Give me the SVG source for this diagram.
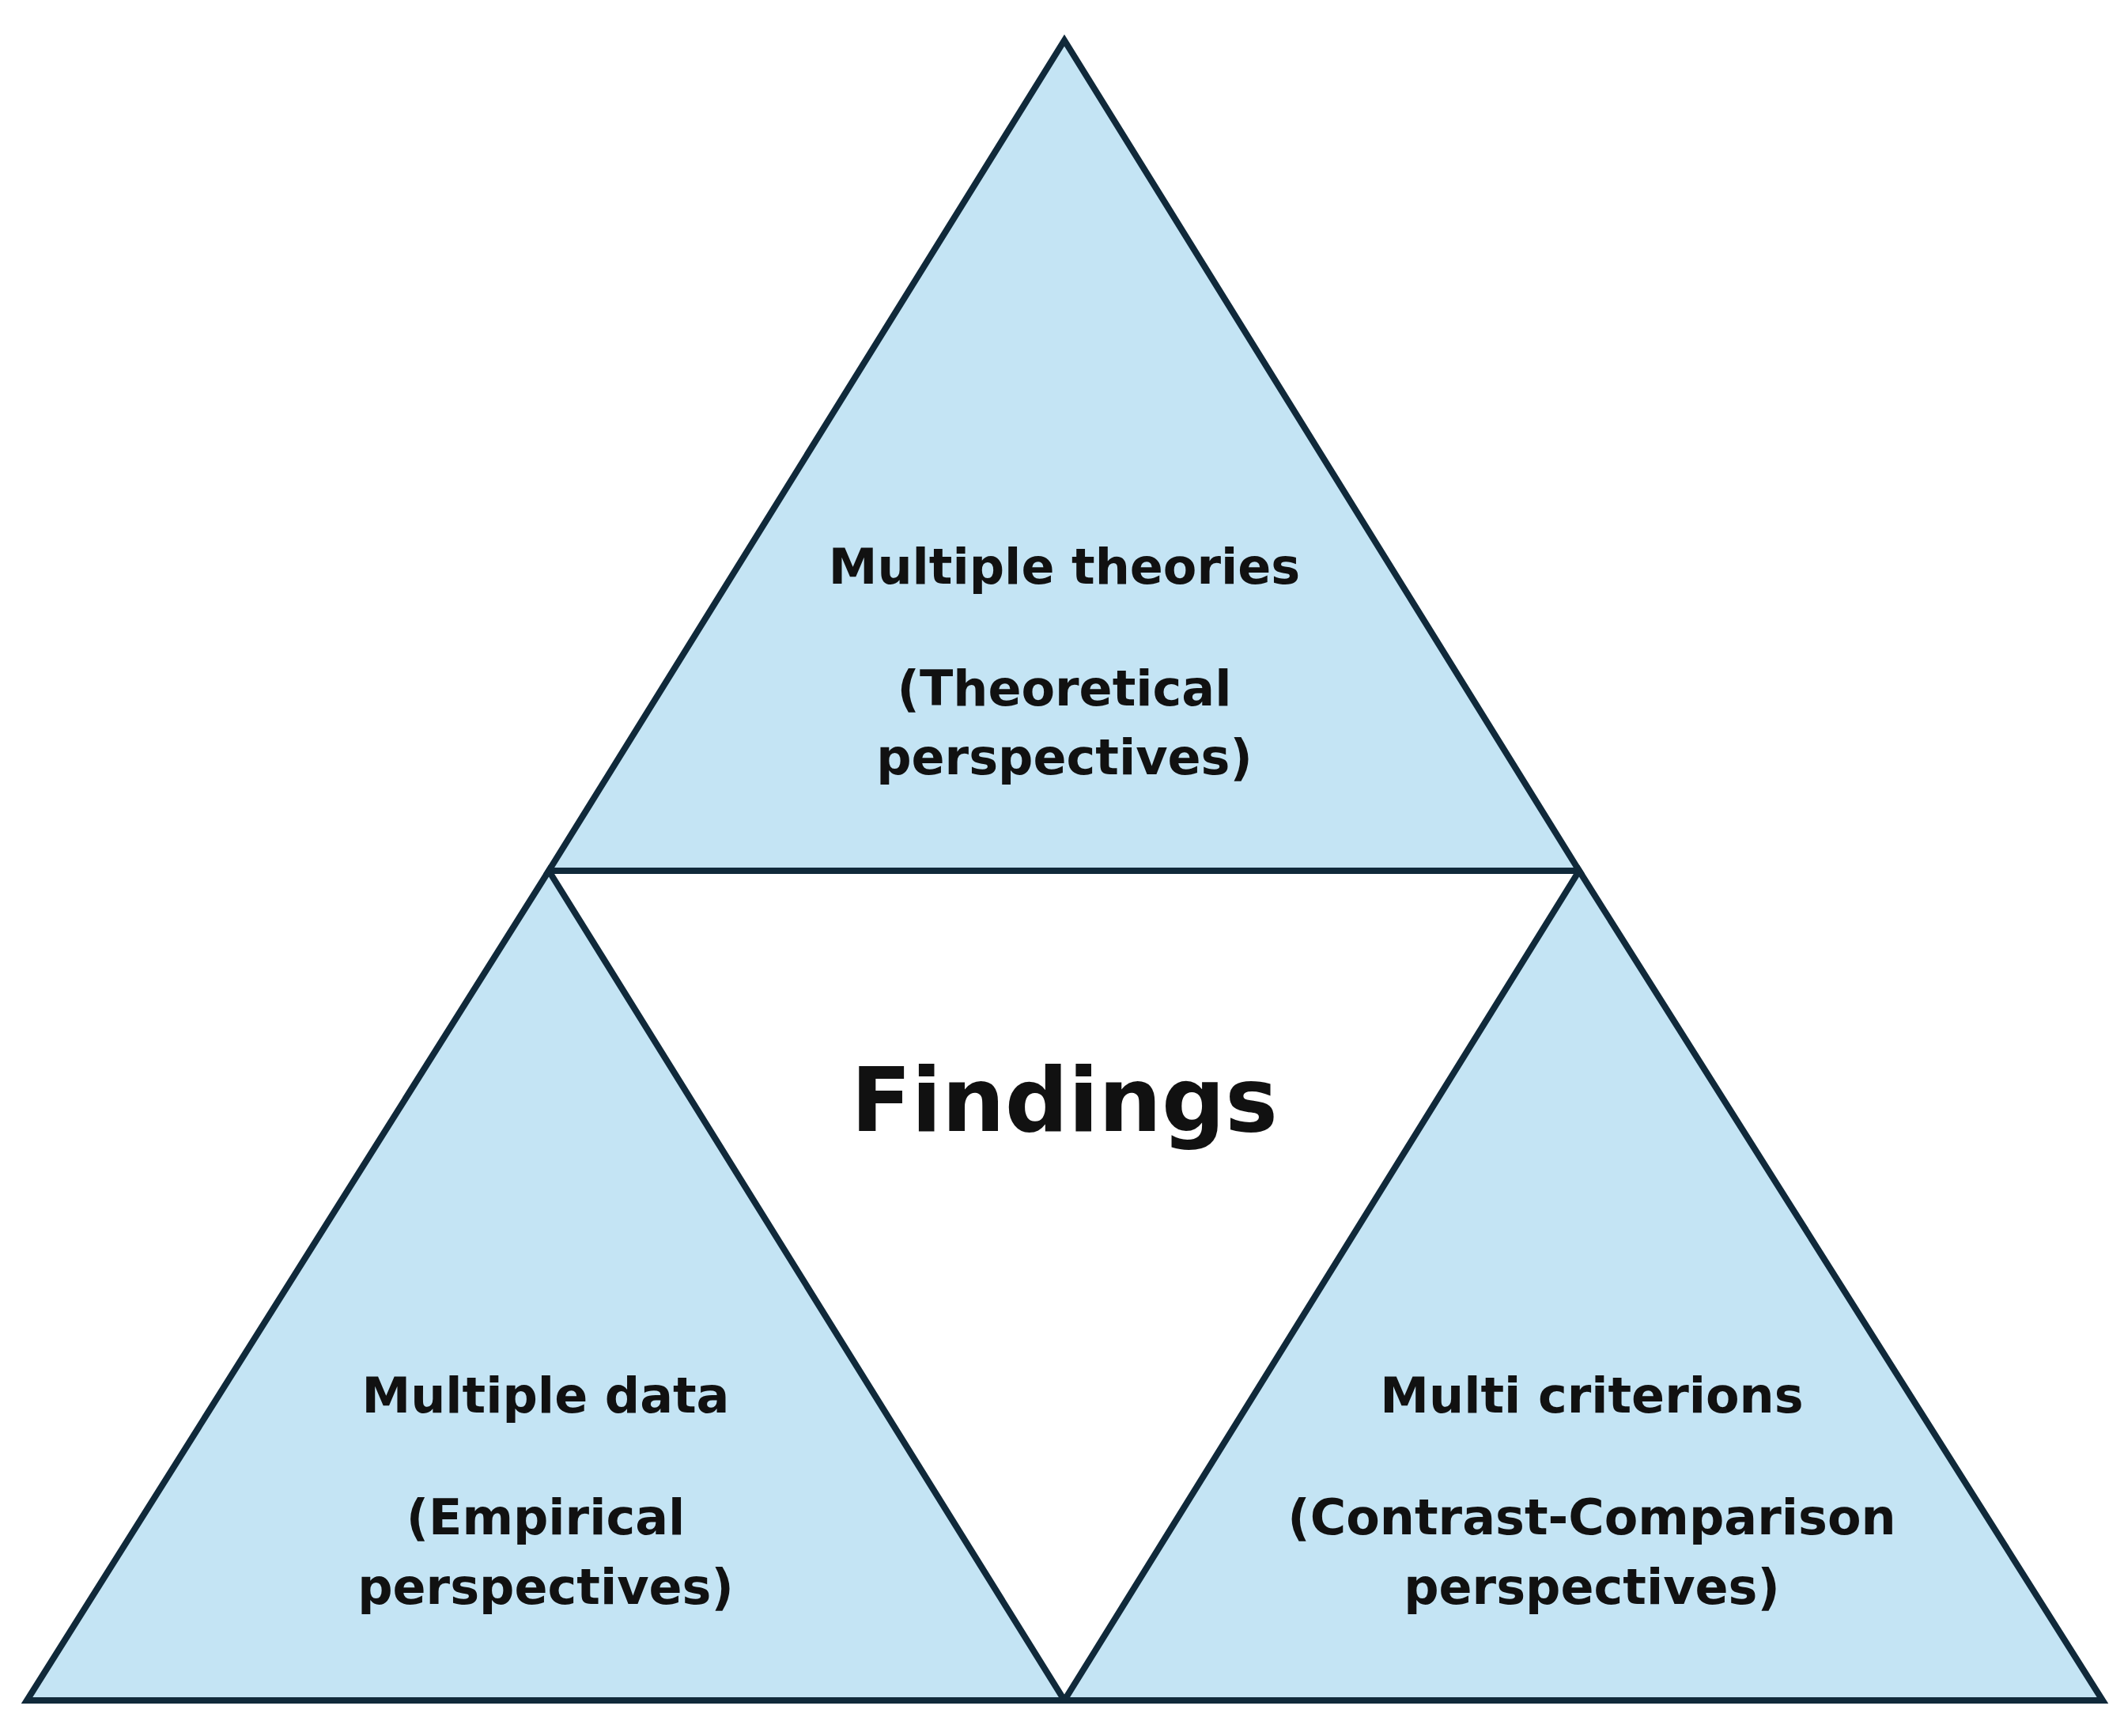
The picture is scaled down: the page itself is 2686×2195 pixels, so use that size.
<svg xmlns="http://www.w3.org/2000/svg" width="2686" height="2195" viewBox="0 0 2686 2195">
<style>
.tri{fill:#c4e4f4;stroke:#10293a;stroke-width:8;stroke-linejoin:miter}
.t{font-family:"DejaVu Sans",sans-serif;font-weight:bold;font-size:62px;fill:#111;text-anchor:middle}
.f{font-family:"DejaVu Sans",sans-serif;font-weight:bold;font-size:112px;fill:#111;text-anchor:middle}
</style>
<rect width="2686" height="2195" fill="#fff"/>
<g id="top"><polygon class="tri" points="1346,51 1997,1101 694,1101"/>
<text class="t" x="1346" y="738">Multiple theories</text>
<text class="t" x="1346" y="892">(Theoretical</text>
<text class="t" x="1346" y="979">perspectives)</text></g>
<g id="left"><polygon class="tri" points="694,1101 1346,2150 34,2150"/>
<text class="t" x="690" y="1786">Multiple data</text>
<text class="t" x="690" y="1940">(Empirical</text>
<text class="t" x="690" y="2028">perspectives)</text></g>
<g id="right"><polygon class="tri" points="1997,1101 2659,2150 1346,2150"/>
<text class="t" x="2013" y="1786">Multi criterions</text>
<text class="t" x="2013" y="1940">(Contrast-Comparison</text>
<text class="t" x="2013" y="2028">perspectives)</text></g>
<g id="center"><text class="f" x="1346" y="1430">Findings</text></g>
<g id="connectors"/>
</svg>
